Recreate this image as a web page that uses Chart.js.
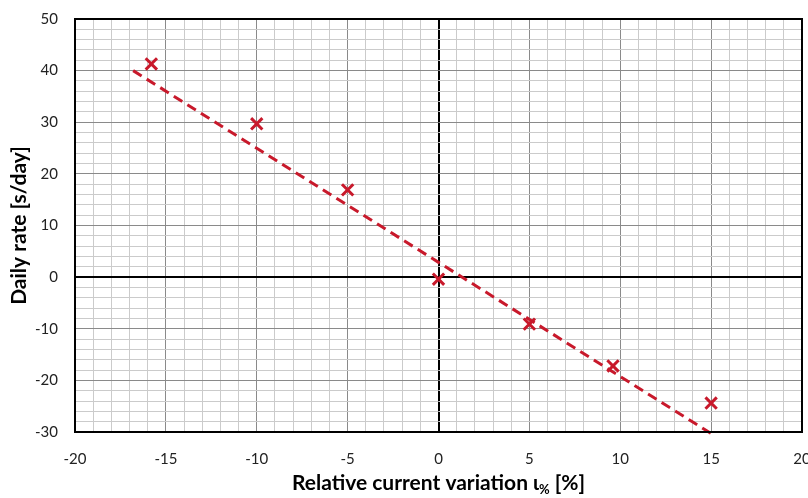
<!DOCTYPE html>
<html>
<head>
<meta charset="utf-8">
<script src="https://cdn.jsdelivr.net/npm/chart.js@4.4.1/dist/chart.umd.min.js"></script>
<style>
  html, body { margin: 0; padding: 0; background: #fff; }
  /* the canvas runs a little past the right edge so the last x label gets cut */
  #wrap { position: relative; width: 808px; height: 498px; overflow: hidden; }
  #rate-chart { display: block; }
</style>
</head>
<body>
<div id="wrap"><canvas id="rate-chart" width="813" height="498"></canvas></div>
<script>
// measured points: relative current variation [%] vs daily rate [s/day]
const currentVar = [-15.8, -10, -5, 0, 5, 9.6, 15];
const dailyRate = [41.3, 29.7, 16.9, -0.4, -9.1, -17.2, -24.4];

// linear trend, drawn between its two end points
const trendX = [-16.8, 15];
const trendY = [40, -30.3];

const xMin = -20, xMax = 20;
const yMin = -30, yMax = 50;

const RED = "#c8192b";
const FONT = "Lato, 'Open Sans', sans-serif";

function pairs(xs, ys) {
  return xs.map((x, i) => ({ x: x, y: ys[i] }));
}

// grid colour: axis at 0 is black, every 5th/10th line darker, rest light
function gridColor(major) {
  return (ctx) => {
    const v = ctx.tick ? ctx.tick.value : 0;
    if (v === 0) return "#000";
    if (Math.abs(v % major) < 1e-9) return "#8a8a8a";
    return "#cbcbcb";
  };
}
function gridWidth(ctx) {
  const v = ctx.tick ? ctx.tick.value : 1;
  return v === 0 ? 2 : 1;
}

// subscript "%" after the iota in the x title
const subscriptPlugin = {
  id: "iotaSub",
  afterDraw(chart) {
    const c = chart.ctx;
    const s = chart.scales.x;
    const main = "Relative current variation \u03b9";
    const tail = " [%]";
    c.save();
    c.font = "bold 21px " + FONT;
    const wMain = c.measureText(main).width;
    const wTail = c.measureText(tail).width;
    c.font = "bold 13px " + FONT;
    const wSub = c.measureText("%").width;
    const total = wMain + wSub + wTail;
    const cx = (s.left + s.right) / 2;
    let x = cx - total / 2;
    const y = 490;
    c.fillStyle = "#000";
    c.textBaseline = "alphabetic";
    c.textAlign = "left";
    c.font = "bold 21px " + FONT;
    c.fillText(main, x, y);
    x += wMain;
    c.font = "bold 13px " + FONT;
    c.fillText("%", x, y + 4);
    x += wSub;
    c.font = "bold 21px " + FONT;
    c.fillText(tail, x, y);
    c.restore();
  },
};

// black frame round the plot area
const framePlugin = {
  id: "frame",
  afterDatasetsDraw(chart) {
    const a = chart.chartArea;
    const c = chart.ctx;
    c.save();
    c.strokeStyle = "#000";
    c.lineWidth = 2;
    c.strokeRect(a.left, a.top, a.right - a.left, a.bottom - a.top);
    c.restore();
  },
};

new Chart(document.getElementById("rate-chart"), {
  type: "scatter",
  data: {
    datasets: [
      {
        label: "Trend",
        type: "line",
        data: pairs(trendX, trendY),
        borderColor: RED,
        borderWidth: 3,
        borderDash: [10, 6],
        pointRadius: 0,
        fill: false,
        clip: 4,
        order: 2,
      },
      {
        label: "Daily rate",
        data: pairs(currentVar, dailyRate),
        pointStyle: "crossRot",
        pointRadius: 8,
        pointHoverRadius: 8,
        borderColor: RED,
        borderWidth: 3,
        order: 1,
      },
    ],
  },
  options: {
    responsive: false,
    animation: false,
    layout: { padding: { top: 19, right: 0, left: 0, bottom: 0 } },
    plugins: { legend: { display: false }, tooltip: { enabled: false } },
    scales: {
      x: {
        type: "linear",
        min: xMin,
        max: xMax,
        afterFit: (s) => {
          s.height = 66;
          s.paddingLeft = 0;
          s.paddingRight = 0;
        },
        border: { display: false },
        grid: { color: gridColor(5), lineWidth: gridWidth, drawTicks: false },
        ticks: {
          stepSize: 1,
          autoSkip: false,
          maxRotation: 0,
          padding: 18,
          color: "#222",
          font: { family: FONT, size: 15 },
          callback: (v) => (v % 5 === 0 ? String(v) : ""),
        },
      },
      y: {
        type: "linear",
        min: yMin,
        max: yMax,
        afterFit: (s) => {
          s.width = 75;
          s.paddingTop = 0;
          s.paddingBottom = 0;
        },
        border: { display: false },
        grid: { color: gridColor(10), lineWidth: gridWidth, drawTicks: false },
        title: {
          display: true,
          text: "Daily rate [s/day]",
          color: "#000",
          font: { family: FONT, size: 21, weight: "bold" },
          padding: { top: 7, bottom: 0 },
        },
        ticks: {
          stepSize: 2,
          autoSkip: false,
          padding: 17,
          color: "#222",
          font: { family: FONT, size: 15 },
          callback: (v) => (v % 10 === 0 ? String(v) : ""),
        },
      },
    },
  },
  plugins: [framePlugin, subscriptPlugin],
});
</script>
</body>
</html>
